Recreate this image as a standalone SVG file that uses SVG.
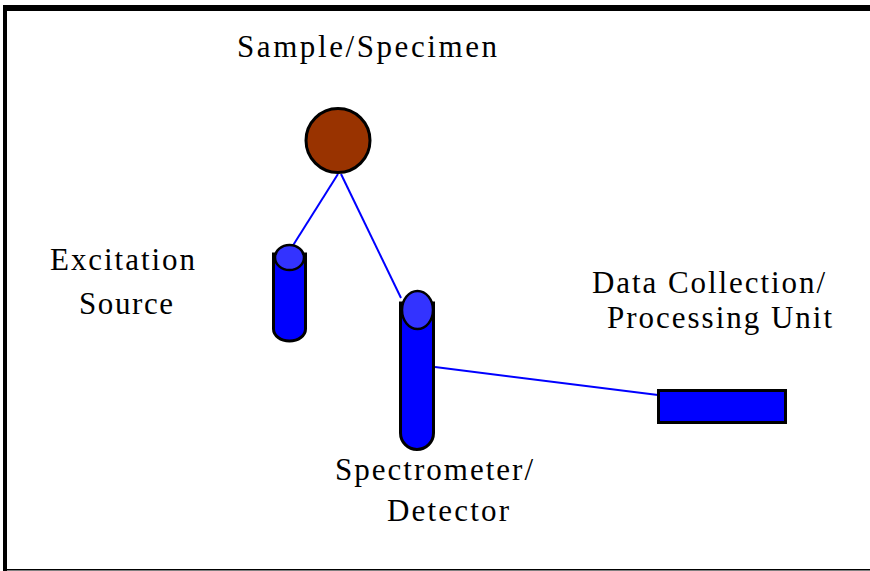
<svg xmlns="http://www.w3.org/2000/svg" width="870" height="571" viewBox="0 0 870 571">
<style>
.t{font-family:"Liberation Serif","Times New Roman",serif;font-size:31px;fill:#000}
.body{fill:#0000ff;stroke:#000;stroke-width:3}
.cap{fill:#3333ff;stroke:#000;stroke-width:2.5}
.conn{stroke:#0000ff;stroke-width:2;fill:none}
</style>
<rect x="0" y="0" width="870" height="571" fill="#fff"/>
<g id="frame">
<rect x="3" y="5" width="867" height="6" fill="#000"/>
<rect x="3" y="5" width="4" height="566" fill="#000"/>
<rect x="3" y="569" width="867" height="1.5" fill="#000"/>
</g>
<g id="connectors">
<line class="conn" x1="338" y1="174" x2="292" y2="247"/>
<line class="conn" x1="341" y1="174" x2="401" y2="298"/>
<line class="conn" x1="435" y1="367" x2="658" y2="395"/>
</g>
<g id="sample">
<circle cx="338" cy="140.5" r="32" fill="#993300" stroke="#000" stroke-width="3"/>
<text class="t" x="237" y="57" textLength="260" lengthAdjust="spacing">Sample/Specimen</text>
</g>
<g id="excitation">
<path class="body" d="M273.5,254 V329 A16,12 0 0 0 305.5,329 V254 Z"/>
<ellipse class="cap" cx="289.5" cy="257.5" rx="14.5" ry="12.5"/>
<text class="t" x="50" y="270" textLength="145" lengthAdjust="spacing">Excitation</text>
<text class="t" x="79" y="314" textLength="94" lengthAdjust="spacing">Source</text>
</g>
<g id="spectrometer">
<path class="body" d="M400.5,303 V433 A16,16 0 0 0 433.5,433 V303 Z"/>
<ellipse class="cap" cx="417.5" cy="310" rx="15.5" ry="19"/>
<text class="t" x="335" y="480" textLength="198" lengthAdjust="spacing">Spectrometer/</text>
<text class="t" x="387" y="521" textLength="122" lengthAdjust="spacing">Detector</text>
</g>
<g id="processing">
<rect x="658.5" y="390.5" width="127" height="32" fill="#0000ff" stroke="#000" stroke-width="3"/>
<text class="t" x="592" y="293" textLength="233" lengthAdjust="spacing">Data Collection/</text>
<text class="t" x="607" y="328" textLength="225" lengthAdjust="spacing">Processing Unit</text>
</g>
</svg>
